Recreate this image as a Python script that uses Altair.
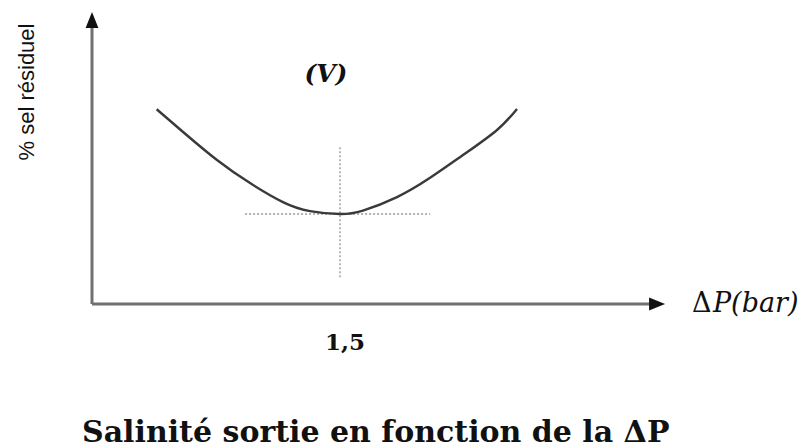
import altair as alt
import pandas as pd

# Residual salt (%) versus pressure difference ΔP (bar), schematic curve (V)
dp_bar = [0.391, 0.551, 0.756, 0.956, 1.155, 1.319, 1.5, 1.639, 1.845, 2.045, 2.244, 2.450, 2.571]
sel_residuel = [6.67, 5.89, 4.93, 4.14, 3.49, 3.18, 3.08, 3.20, 3.66, 4.32, 5.10, 5.96, 6.68]

dp_optimum = 1.5
sel_min = 3.08

x_domain = [0, 3.466]
y_domain = [0, 10]

xs = alt.Scale(domain=x_domain, nice=False, zero=False)
ys = alt.Scale(domain=y_domain, nice=False, zero=False)


def X(field="x"):
    return alt.X(f"{field}:Q", scale=xs, axis=None)


def Y(field="y"):
    return alt.Y(f"{field}:Q", scale=ys, axis=None)


curve_df = pd.DataFrame({"x": dp_bar, "y": sel_residuel})

curve = alt.Chart(curve_df).mark_line(
    interpolate="natural", color="#3a3a3a", strokeWidth=2.4
).encode(x=X(), y=Y())

# dotted guides through the minimum
vguide = alt.Chart(pd.DataFrame({"x": [dp_optimum], "y": [0.92], "y2": [5.38]})).mark_rule(
    color="#9a9a9a", strokeWidth=1.4, strokeDash=[2, 2]
).encode(x=X(), y=Y(), y2="y2:Q")

hguide = alt.Chart(pd.DataFrame({"x": [0.926], "x2": [2.045], "y": [sel_min]})).mark_rule(
    color="#9a9a9a", strokeWidth=1.4, strokeDash=[2, 2]
).encode(x=X(), x2="x2:Q", y=Y())

# axes drawn as arrows
axis_color = "#707070"
y_axis = alt.Chart(pd.DataFrame({"x": [0], "y": [0], "y2": [9.73]})).mark_rule(
    color=axis_color, strokeWidth=3
).encode(x=X(), y=Y(), y2="y2:Q")

x_axis = alt.Chart(pd.DataFrame({"x": [0], "x2": [3.418], "y": [0]})).mark_rule(
    color=axis_color, strokeWidth=3
).encode(x=X(), x2="x2:Q", y=Y())

up_head = alt.Chart(pd.DataFrame({"x": [0], "y": [9.73]})).mark_point(
    shape="M0,-1L0.8,1L-0.8,1Z", filled=True, color="#111111", opacity=1, size=256, strokeWidth=0
).encode(x=X(), y=Y())

right_head = alt.Chart(pd.DataFrame({"x": [3.418], "y": [0]})).mark_point(
    shape="M1,0L-1,0.8L-1,-0.8Z", filled=True, color="#111111", opacity=1, size=256, strokeWidth=0
).encode(x=X(), y=Y())

serif = "DejaVu Serif"

curve_label = alt.Chart(pd.DataFrame({"x": [1.415], "y": [7.88], "t": ["(V)"]})).mark_text(
    font=serif, fontSize=25, fontWeight="bold", fontStyle="italic", color="#111111",
    align="center", baseline="middle"
).encode(x=X(), y=Y(), text="t:N")

y_title = alt.Chart(pd.DataFrame({"x": [-0.393], "y": [7.26], "t": ["% sel résiduel"]})).mark_text(
    font="Liberation Sans", fontSize=22, angle=270, color="#111111",
    align="center", baseline="middle"
).encode(x=X(), y=Y(), text="t:N")

x_title_delta = alt.Chart(pd.DataFrame({"x": [3.629], "y": [0], "t": ["Δ"]})).mark_text(
    font=serif, fontSize=27, color="#111111", align="left", baseline="middle"
).encode(x=X(), y=Y(), text="t:N")

x_title_rest = alt.Chart(pd.DataFrame({"x": [3.629], "y": [0], "t": ["P(bar)"]})).mark_text(
    font=serif, fontSize=27, fontStyle="italic", color="#111111", align="left",
    baseline="middle", dx=21
).encode(x=X(), y=Y(), text="t:N")

tick_label = alt.Chart(pd.DataFrame({"x": [dp_optimum], "y": [-1.575], "t": ["1,5"]})).mark_text(
    font=serif, fontSize=23, fontWeight="bold", color="#111111", align="center",
    baseline="alphabetic", dx=5
).encode(x=X(), y=Y(), text="t:N")

caption = alt.Chart(pd.DataFrame({"x": [-0.0605], "y": [-4.72], "t": ["Salinité sortie en fonction de la  ΔP"]})).mark_text(
    font=serif, fontSize=30, fontWeight="bold", color="#111111", align="left",
    baseline="alphabetic"
).encode(x=X(), y=Y(), text="t:N")

chart = alt.layer(
    hguide, vguide, curve, y_axis, x_axis, up_head, right_head,
    curve_label, y_title, x_title_delta, x_title_rest, tick_label, caption
).properties(
    width=573, height=292,
    autosize=alt.AutoSizeParams(type="none"),
    padding={"left": 92, "top": 12, "right": 146, "bottom": 144},
    background="white",
).configure_view(stroke=None)

chart.save("out.html", embed_options={"renderer": "svg", "actions": False})
